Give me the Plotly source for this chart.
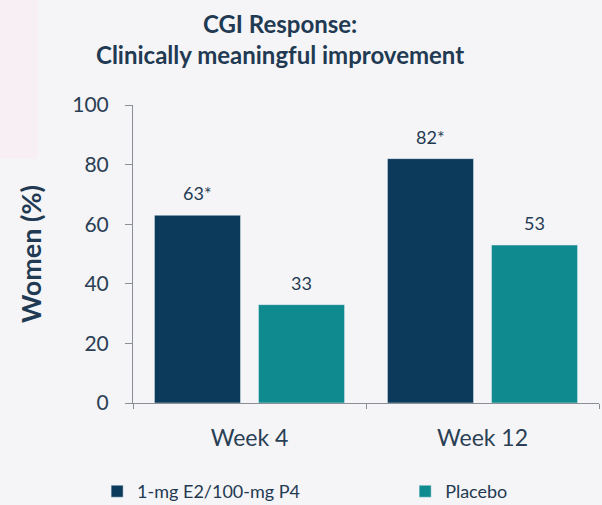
import plotly.graph_objects as go

categories = ["Week 4", "Week 12"]
active_values = [63, 82]
placebo_values = [33, 53]
active_labels = ["63*", "82*"]
placebo_labels = ["33", "53"]
series_names = ["1-mg E2/100-mg P4", "Placebo"]
y_ticks = [0, 20, 40, 60, 80, 100]

dark = "#0b3a5b"
teal = "#0f8a8e"
text_col = "#1f3a52"
font_family = "Lato, 'Open Sans', sans-serif"

fig = go.Figure()
fig.add_trace(go.Bar(x=categories, y=active_values, name=series_names[0],
                     marker_color=dark, legend="legend", showlegend=True))
fig.add_trace(go.Bar(x=categories, y=placebo_values, name=series_names[1],
                     marker_color=teal, legend="legend2", showlegend=True))

annotations = [dict(text="<b>CGI Response:<br>Clinically meaningful improvement</b>",
                    xref="paper", yref="paper", x=(280 - 133) / 466, y=(403 - 7) / 298,
                    xanchor="center", yanchor="top", showarrow=False, align="center",
                    font=dict(size=24, color=text_col, family=font_family))]
for cat, val, lab in zip(categories, active_values, active_labels):
    annotations.append(dict(x=cat, y=val, text=lab, showarrow=False, xshift=-52,
                            yanchor="bottom", yshift=9,
                            font=dict(size=18, color=text_col)))
for cat, val, lab in zip(categories, placebo_values, placebo_labels):
    annotations.append(dict(x=cat, y=val, text=lab, showarrow=False, xshift=52,
                            yanchor="bottom", yshift=9,
                            font=dict(size=18, color=text_col)))

fig.update_layout(
    width=602, height=505,
    margin=dict(l=133, r=3, t=105, b=102, autoexpand=False),
    paper_bgcolor="#f5f5f7", plot_bgcolor="#f5f5f7",
    barmode="group", bargap=0.107, bargroupgap=0.173,
    showlegend=True,
    font=dict(family=font_family, color=text_col, size=17),
    annotations=annotations,
    yaxis=dict(range=[0, 100], tickvals=y_ticks, showgrid=False, zeroline=False,
               showline=True, linecolor="#8a8f96", linewidth=1,
               ticks="outside", ticklen=7, tickcolor="#8a8f96", ticklabelstandoff=12,
               tickfont=dict(size=21, color="#2b3f55"),
               title=dict(text="<b>Women (%)</b>", font=dict(size=27, color=text_col), standoff=22)),
    xaxis=dict(showline=True, linecolor="#8a8f96", linewidth=1,
               ticks="outside", ticklen=5, tickcolor="#8a8f96", tickson="boundaries",
               ticklabelstandoff=14,
               tickfont=dict(size=23, color="#2b3f55")),
    legend=dict(orientation="h", x=-0.077, xanchor="left", y=-0.235, yanchor="top",
                itemwidth=30, font=dict(size=18, color=text_col), bgcolor="rgba(0,0,0,0)"),
    legend2=dict(orientation="h", x=0.584, xanchor="left", y=-0.235, yanchor="top",
                 itemwidth=30, font=dict(size=18, color=text_col), bgcolor="rgba(0,0,0,0)"),
    shapes=[dict(type="rect", xref="paper", yref="paper", x0=-0.285, x1=-0.205,
                 y0=0.82, y1=1.36, fillcolor="#f7eff3", line_width=0, layer="below")],
)

fig.write_html("out.html", config={"displayModeBar": False},
               post_script="document.body.style.margin='0';")
